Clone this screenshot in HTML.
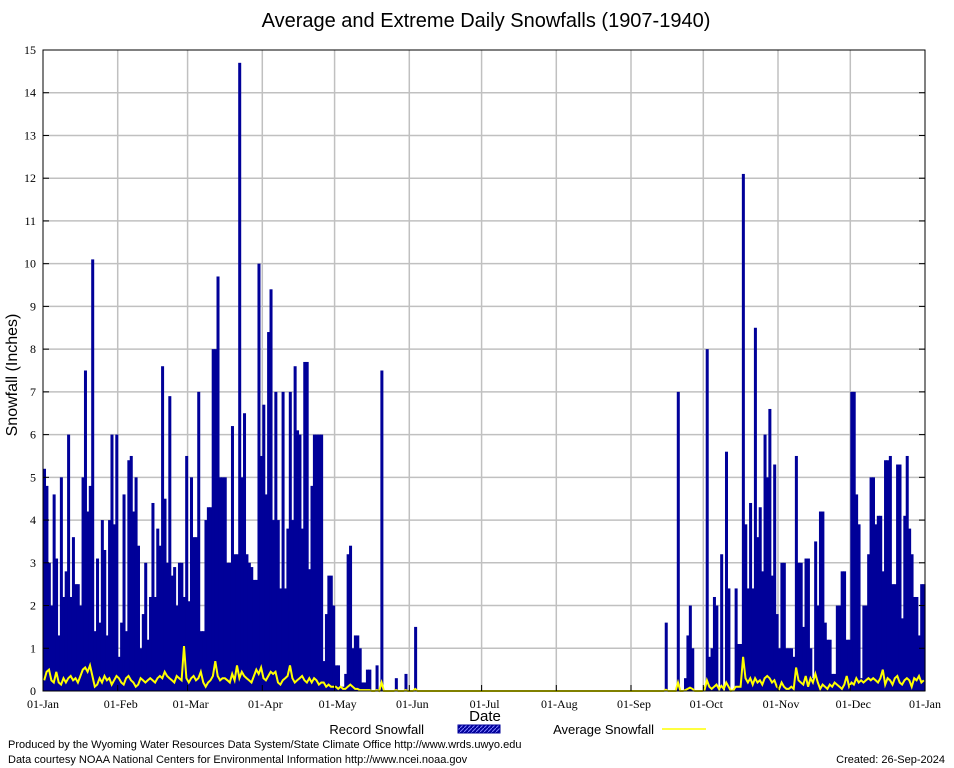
<!DOCTYPE html>
<html><head><meta charset="utf-8">
<style>
body{margin:0;background:#fff;}
#wrap{position:relative;width:954px;height:768px;overflow:hidden;font-family:"Liberation Sans",sans-serif;}
svg text{font-family:"Liberation Serif",serif;}
</style></head>
<body>
<div id="wrap">
<svg id="chart" width="954" height="768"></svg>
</div>
<script>
const monthLabels=["01-Jan","01-Feb","01-Mar","01-Apr","01-May","01-Jun","01-Jul","01-Aug","01-Sep","01-Oct","01-Nov","01-Dec","01-Jan"];
const monthStartDays=[0,31,60,91,121,152,182,213,244,274,305,335,366];
const yTicks=[0,1,2,3,4,5,6,7,8,9,10,11,12,13,14,15];
const recJan=[5.2,4.8,3.0,2.0,4.6,3.1,1.3,5.0,2.2,2.8,6.0,2.2,3.6,2.5,2.5,2.0,5.0,7.5,4.2,4.8,10.1,1.4,3.1,1.6,4.0,3.3,1.3,4.0,6.0,3.9,6.0];
const recFeb=[0.8,1.6,4.6,1.4,5.4,5.5,4.2,5.0,3.4,1.0,1.8,3.0,1.2,2.2,4.4,2.2,3.8,3.4,7.6,4.5,3.0,6.9,2.7,2.9,2.0,3.0,3.0,2.2,5.5];
const recMar=[2.1,5.0,3.6,3.6,7.0,1.4,1.4,4.0,4.3,4.3,8.0,8.0,9.7,5.0,5.0,5.0,3.0,3.0,6.2,3.2,3.2,14.7,5.0,6.5,3.2,3.0,2.9,2.6,2.6,10.0,5.5];
const recApr=[6.7,4.6,8.4,9.4,4.0,7.0,4.0,2.4,7.0,2.4,3.8,7.0,4.0,7.6,6.1,6.0,3.8,7.7,7.7,2.85,4.8,6.0,6.0,6.0,6.0,0.7,1.8,2.7,2.7,2.0];
const recMay=[0.6,0.6,0.1,0.1,0.4,3.2,3.4,1.0,1.3,1.3,1.0,0.2,0.2,0.5,0.5,0,0,0.6,0,7.5,0,0,0,0,0,0.3,0,0,0,0.4,0];
const recJun=[0,0,1.5,0,0,0,0,0,0,0,0,0,0,0,0,0,0,0,0,0,0,0,0,0,0,0,0,0,0,0];
const recJul=[0,0,0,0,0,0,0,0,0,0,0,0,0,0,0,0,0,0,0,0,0,0,0,0,0,0,0,0,0,0,0];
const recAug=[0,0,0,0,0,0,0,0,0,0,0,0,0,0,0,0,0,0,0,0,0,0,0,0,0,0,0,0,0,0,0];
const recSep=[0,0,0,0,0,0,0,0,0,0,0,0,0,0,1.6,0,0,0,0,7.0,0,0,0.3,1.3,2.0,1.0,0,0,0,0];
const recOct=[0.1,8.0,0.8,1.0,2.2,2.0,0,3.2,0,5.6,2.4,0,0,2.4,1.1,1.1,12.1,3.9,2.4,4.4,2.4,8.5,3.6,4.3,2.8,6.0,5.0,6.6,2.7,5.3,1.8];
const recNov=[1.0,3.0,3.0,1.0,1.0,1.0,0.8,5.5,3.0,3.0,1.5,3.1,3.1,1.0,0.3,3.5,2.0,4.2,4.2,1.6,1.2,1.2,0.4,0.4,2.0,2.0,2.8,2.8,1.2,1.2];
const recDec=[7.0,7.0,4.6,3.9,0.3,2.0,2.0,3.2,5.0,5.0,3.9,4.1,4.1,2.8,5.4,5.4,5.5,2.5,2.5,5.3,5.3,1.7,4.1,5.5,3.8,3.2,2.2,2.2,1.3,2.5,2.5];
const avgJan=[0.25,0.45,0.5,0.25,0.2,0.45,0.2,0.15,0.3,0.2,0.3,0.35,0.25,0.3,0.2,0.35,0.5,0.55,0.45,0.6,0.35,0.1,0.15,0.3,0.2,0.35,0.25,0.3,0.15,0.25,0.35];
const avgFeb=[0.3,0.2,0.15,0.3,0.35,0.25,0.2,0.1,0.15,0.3,0.25,0.2,0.25,0.3,0.25,0.2,0.3,0.35,0.3,0.45,0.35,0.3,0.25,0.2,0.35,0.3,0.25,1.05,0.3];
const avgMar=[0.2,0.3,0.35,0.25,0.3,0.45,0.2,0.1,0.2,0.25,0.35,0.7,0.35,0.25,0.3,0.3,0.25,0.2,0.4,0.25,0.6,0.3,0.45,0.35,0.3,0.25,0.2,0.35,0.5,0.4,0.55];
const avgApr=[0.3,0.25,0.35,0.45,0.4,0.45,0.2,0.15,0.25,0.3,0.35,0.6,0.3,0.2,0.25,0.3,0.35,0.25,0.2,0.3,0.2,0.3,0.25,0.15,0.2,0.2,0.1,0.15,0.1,0.1];
const avgMay=[0.1,0.05,0.1,0.05,0.05,0.1,0.15,0.1,0.05,0.05,0.02,0.02,0.02,0.02,0.02,0,0,0.02,0,0.2,0,0,0,0,0,0.02,0,0,0,0.02,0];
const avgJun=[0,0,0.05,0,0,0,0,0,0,0,0,0,0,0,0,0,0,0,0,0,0,0,0,0,0,0,0,0,0,0];
const avgJul=[0,0,0,0,0,0,0,0,0,0,0,0,0,0,0,0,0,0,0,0,0,0,0,0,0,0,0,0,0,0,0];
const avgAug=[0,0,0,0,0,0,0,0,0,0,0,0,0,0,0,0,0,0,0,0,0,0,0,0,0,0,0,0,0,0,0];
const avgSep=[0,0,0,0,0,0,0,0,0,0,0,0,0,0,0.03,0,0,0,0,0.2,0,0,0.02,0.05,0.08,0.05,0,0,0,0];
const avgOct=[0.02,0.25,0.1,0.05,0.1,0.15,0.05,0.12,0.05,0.2,0.1,0,0.02,0.1,0.1,0.1,0.8,0.3,0.2,0.3,0.15,0.3,0.2,0.25,0.15,0.3,0.35,0.3,0.2,0.25,0.1];
const avgNov=[0.05,0.2,0.1,0.05,0.05,0.1,0.05,0.55,0.25,0.2,0.15,0.35,0.1,0.3,0.2,0.4,0.2,0.05,0.15,0.1,0.05,0.15,0.1,0.2,0.15,0.1,0.05,0.15,0.35,0.1];
const avgDec=[0.2,0.15,0.3,0.2,0.25,0.2,0.25,0.3,0.25,0.3,0.25,0.2,0.3,0.5,0.15,0.3,0.25,0.15,0.3,0.35,0.2,0.15,0.25,0.3,0.25,0.1,0.3,0.25,0.35,0.2,0.25];

const recordValues=[].concat(recJan,recFeb,recMar,recApr,recMay,recJun,recJul,recAug,recSep,recOct,recNov,recDec);
const avgValues=[].concat(avgJan,avgFeb,avgMar,avgApr,avgMay,avgJun,avgJul,avgAug,avgSep,avgOct,avgNov,avgDec);

const NS="http://www.w3.org/2000/svg";
const svg=document.getElementById('chart');
const L=43,R=925,T=50,B=691,YMAX=15,NDAYS=366;
const xs=d=>L+d*(R-L)/NDAYS;
const ys=v=>B-v*(B-T)/YMAX;
function mk(tag,attrs,parent){const e=document.createElementNS(NS,tag);for(const k in attrs)e.setAttribute(k,attrs[k]);(parent||svg).appendChild(e);return e;}

let t=mk('text',{x:486,y:27,'text-anchor':'middle','font-size':'20',style:'font-family:"Liberation Sans",sans-serif'});
t.textContent='Average and Extreme Daily Snowfalls (1907-1940)';



const grid=mk('g',{});


yTicks.forEach(v=>{if(v>0&&v<YMAX){const l=mk('line',{x1:L,x2:R,y1:ys(v),y2:ys(v),stroke:'#c0c0c0','stroke-width':1.5},grid);}});
monthStartDays.forEach((d,i)=>{if(i>0&&i<12){const l=mk('line',{x1:xs(d),x2:xs(d),y1:T,y2:B,stroke:'#c0c0c0','stroke-width':1.5},grid);}});

const bars=mk('g',{});


const bw=(R-L)/NDAYS;
recordValues.forEach((v,i)=>{if(v<=0)return;const r=mk('rect',{x:xs(i),y:ys(v),width:bw+0.6,height:B-ys(v),fill:'#000099'},bars);

});

let pts=avgValues.map((v,i)=>xs(i+0.5).toFixed(1)+','+ys(v).toFixed(1)).join(' ');
const pl=mk('polyline',{points:pts,fill:'none',stroke:'#ffff00','stroke-width':2});



const bd=mk('rect',{x:L,y:T,width:R-L,height:B-T,fill:'none',stroke:'#000','stroke-width':1});



const yax=mk('g',{});


yTicks.forEach(v=>{
 mk('line',{x1:L,x2:L+6,y1:ys(v),y2:ys(v),stroke:'#000'},yax);
 mk('line',{x1:R-6,x2:R,y1:ys(v),y2:ys(v),stroke:'#000'},yax);
 const tx=mk('text',{x:L-7,y:ys(v)+4,'text-anchor':'end','font-size':'12'},yax);tx.textContent=v;
 
 
});
const xax=mk('g',{});


monthStartDays.forEach((d,i)=>{
 mk('line',{x1:xs(d),x2:xs(d),y1:B,y2:B-6,stroke:'#000'},xax);
 const tx=mk('text',{x:xs(d)+(i>0&&i<12?3:0),y:B+17,'text-anchor':'middle','font-size':'12'},xax);tx.textContent=monthLabels[i];
 
 
});

let yt=mk('text',{x:0,y:0,transform:'translate(17,375) rotate(-90)','text-anchor':'middle','font-size':'16',style:'font-family:"Liberation Sans",sans-serif'});
yt.textContent='Snowfall (Inches)';


let xt=mk('text',{x:485,y:721,'text-anchor':'middle','font-size':'15',style:'font-family:"Liberation Sans",sans-serif'});
xt.textContent='Date';



const lg=mk('g',{});


const pat=mk('pattern',{id:'hatch',width:4,height:4,patternUnits:'userSpaceOnUse'},mk('defs',{}));
mk('rect',{width:4,height:4,fill:'#000099'},pat);
mk('path',{d:'M0,4 L4,0',stroke:'#8080ff','stroke-width':1},pat);
let l1=mk('text',{x:424,y:734,'text-anchor':'end','font-size':'13',style:'font-family:"Liberation Sans",sans-serif'},lg);l1.textContent='Record Snowfall';


mk('rect',{x:458,y:725,width:42,height:8,fill:'url(#hatch)',stroke:'#000099'},lg);
let l2=mk('text',{x:654,y:734,'text-anchor':'end','font-size':'13',style:'font-family:"Liberation Sans",sans-serif'},lg);l2.textContent='Average Snowfall';


mk('line',{x1:662,x2:706,y1:729,y2:729,stroke:'#ffff00','stroke-width':1.5},lg);

const f=[['Produced by the Wyoming Water Resources Data System/State Climate Office http://www.wrds.uwyo.edu',8,748,'start','footer-credit'],
['Data courtesy NOAA National Centers for Environmental Information http://www.ncei.noaa.gov',8,763,'start','footer-source'],
['Created:  26-Sep-2024',945,763,'end','footer-created']];
f.forEach(a=>{const e=mk('text',{x:a[1],y:a[2],'text-anchor':a[3],'font-size':'11',style:'font-family:"Liberation Sans",sans-serif'});e.textContent=a[0];

});
</script>
</body></html>
